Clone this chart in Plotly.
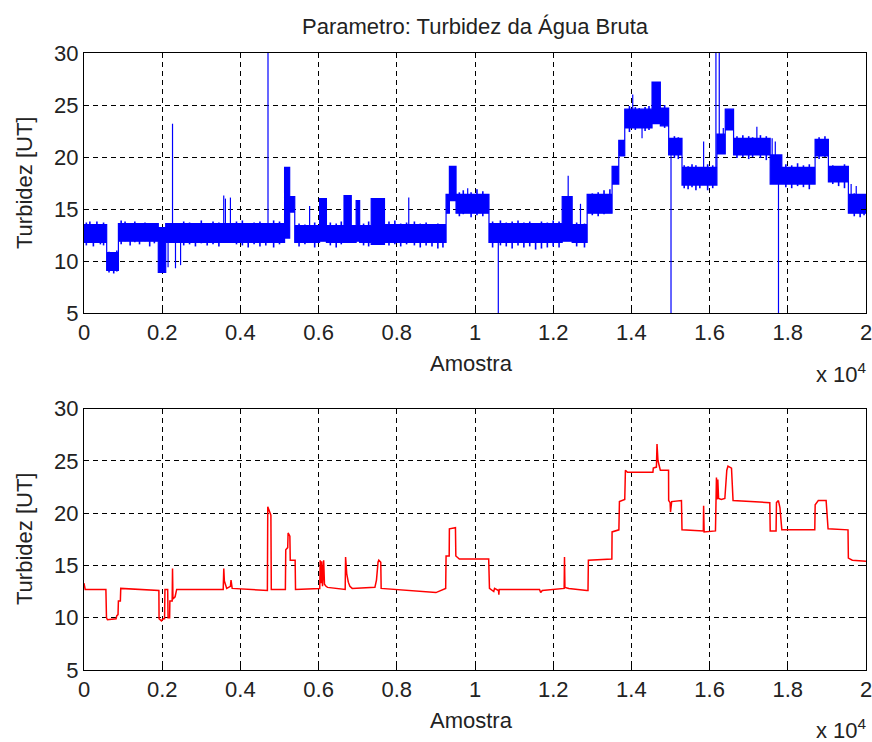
import plotly.graph_objects as go

# ---- raw signal (top): noise band per segment ----
band_edges = [0, 580, 880, 1900, 2090, 5130, 5260, 5390, 6025, 6200,
              6650, 6835, 6960, 7050, 7345, 7685, 9260, 9345, 9515, 10357,
              12230, 12485, 12868, 13506, 13677, 13830, 14528, 14740, 14953, 15294,
              16187, 16400, 16613, 17549, 17847, 18698, 19038, 19549, 20000]
band_lo = [11.8, 9.1, 11.9, 8.9, 11.8, 12.2, 14.7, 11.8, 11.9, 11.8,
           11.8, 11.8, 11.9, 11.8, 11.6, 11.8, 14.6, 15.8, 14.6, 11.8,
           11.9, 11.8, 14.6, 17.4, 20.1, 22.8, 23.2, 23.0, 20.2, 17.3,
           20.3, 22.6, 20.2, 17.4, 17.4, 20.1, 17.6, 14.6]
band_hi = [13.5, 10.8, 13.6, 13.2, 13.6, 19.0, 16.2, 13.4, 16.0, 13.4,
           16.3, 13.4, 15.8, 13.4, 16.0, 13.5, 16.4, 19.1, 16.4, 13.6,
           16.2, 13.5, 16.4, 19.1, 21.6, 24.6, 27.2, 24.7, 21.8, 19.0,
           22.2, 24.6, 21.8, 20.2, 19.0, 21.7, 19.1, 16.4]

# short noise excursions poking out of the band
flick_x = [60, 150, 240, 330, 420, 500, 640, 760, 840, 950,
           1050, 1180, 1300, 1420, 1560, 1680, 1800, 2550, 2700, 2850,
           3000, 3150, 3300, 3450, 3900, 4050, 4200, 4350, 4500, 4650,
           4850, 5000, 5500, 5650, 5900, 6300, 6450, 6580, 7150, 7280,
           7800, 7950, 8100, 8250, 8450, 8600, 8750, 8900, 9050, 9180,
           9600, 9700, 9900, 10050, 10200, 10450, 10650, 10800, 10950, 11100,
           11250, 11400, 11550, 11700, 11850, 12000, 12150, 12600, 12800, 13000,
           13150, 13300, 13450, 13950, 14100, 14200, 14350, 14450, 14850, 15100,
           15200, 15350, 15450, 15550, 15650, 15750, 15950, 16080, 16700, 16850,
           17000, 17100, 17300, 17450, 17950, 18100, 18250, 18400, 18550, 18800,
           18950, 19150, 19300, 19450, 19700, 19850, 19950]
flick_lo = [11.5, 11.9, 11.4, 11.9, 11.6, 11.5, 8.9, 8.8, 9.0, 11.6,
            11.9, 11.5, 11.8, 11.6, 11.9, 11.4, 11.7, 11.5, 11.6, 11.4,
            11.7, 11.5, 11.6, 11.4, 11.6, 11.5, 11.3, 11.6, 11.4, 11.5,
            11.3, 11.6, 11.4, 11.6, 11.3, 11.5, 11.3, 11.6, 11.5, 11.4,
            11.5, 11.6, 11.4, 11.6, 11.5, 11.3, 11.5, 11.4, 11.2, 11.3,
            14.3, 14.5, 14.2, 14.4, 14.3, 11.3, 11.5, 11.4, 11.2, 11.5,
            11.3, 11.4, 11.1, 11.2, 11.3, 11.4, 11.3, 11.4, 11.3, 14.4,
            14.3, 14.5, 14.7, 22.4, 22.6, 22.9, 22.5, 22.6, 22.8, 19.9,
            19.8, 17.0, 16.9, 17.1, 16.8, 17.0, 16.8, 17.0, 19.9, 20.0,
            19.8, 20.0, 19.9, 19.7, 17.1, 17.0, 17.2, 17.1, 16.9, 19.8,
            20.0, 17.4, 17.2, 17.0, 14.3, 14.2, 14.4]
flick_hi = [13.7, 13.8, 13.3, 13.8, 13.4, 13.7, 10.9, 10.7, 11.0, 13.9,
            13.8, 13.6, 13.8, 13.5, 13.7, 13.6, 13.3, 13.8, 13.7, 13.6,
            13.9, 13.5, 13.8, 13.7, 13.8, 13.9, 13.6, 13.7, 13.8, 13.6,
            13.9, 13.8, 13.6, 13.5, 13.7, 13.7, 13.6, 13.8, 13.6, 13.8,
            13.8, 13.9, 13.6, 13.7, 13.8, 13.6, 13.7, 13.5, 13.6, 13.4,
            16.6, 16.8, 16.6, 16.9, 16.7, 13.8, 13.9, 13.7, 13.8, 13.9,
            13.7, 13.8, 13.6, 13.8, 13.7, 13.9, 13.8, 13.7, 13.6, 16.5,
            16.6, 16.8, 16.9, 24.9, 24.8, 24.7, 24.8, 24.9, 25.0, 22.0,
            21.9, 19.2, 19.1, 19.3, 19.2, 19.0, 19.3, 19.2, 22.0, 22.1,
            22.0, 21.9, 22.1, 22.0, 19.3, 19.2, 19.4, 19.2, 19.3, 21.9,
            22.0, 19.2, 19.1, 19.3, 16.5, 16.2, 16.0]

# isolated outliers in the raw signal
spike_x = [2150, 2264, 2340, 2470, 3574, 3617, 3745, 4706, 5770, 8306,
           9813, 10596, 12383, 12698, 14034, 14272, 15013, 15847, 16162, 16247,
           16350, 17209, 17600, 17680, 17762, 19620, 19750]
spike_base = [12.0, 13.0, 12.0, 12.0, 13.0, 13.0, 13.0, 13.0, 13.0, 13.0,
              16.0, 12.5, 13.0, 13.0, 24.0, 23.5, 21.0, 18.5, 19.0, 21.0,
              21.5, 21.0, 19.0, 19.0, 18.5, 16.0, 16.0]
spike_top = [9.4, 23.2, 9.3, 9.6, 16.3, 16.0, 16.1, 35.0, 15.3, 16.1,
             17.0, 0.0, 18.2, 15.5, 26.0, 21.8, 0.0, 21.5, 35.0, 35.0,
             22.8, 22.9, 21.8, 21.5, 0.0, 17.4, 17.2]

# ---- filtered signal (bottom) ----
filt_x = [0, 30, 560, 575, 600, 820, 840, 870, 880, 930,
          940, 1915, 1920, 1980, 2030, 2060, 2070, 2140, 2150, 2190,
          2196, 2255, 2264, 2275, 2330, 2370, 3560, 3575, 3590, 3610,
          3650, 3745, 3760, 3790, 4690, 4700, 4780, 4790, 5150, 5160,
          5210, 5220, 5265, 5275, 5400, 5410, 6030, 6040, 6060, 6080,
          6100, 6130, 6150, 6190, 6230, 6680, 6690, 6720, 6760, 6800,
          6860, 7440, 7480, 7520, 7540, 7590, 7600, 9000, 9250, 9260,
          9340, 9345, 9500, 9510, 9600, 10350, 10370, 10480, 10500, 10600,
          10610, 10620, 11650, 11680, 11720, 12280, 12289, 12300, 12400, 12860,
          12890, 12900, 13500, 13506, 13680, 13694, 13830, 13847, 13900, 14550,
          14560, 14640, 14655, 14680, 14740, 14950, 14953, 14990, 15000, 15030,
          15280, 15294, 15840, 15847, 15860, 16150, 16162, 16175, 16190, 16210,
          16230, 16300, 16390, 16440, 16470, 16560, 16600, 17540, 17550, 17700,
          17710, 17760, 17800, 17847, 18690, 18700, 18780, 18980, 19030, 19540,
          19549, 19650, 20000]
filt_y = [13.3, 12.7, 12.7, 10.0, 9.8, 9.9, 10.2, 10.3, 11.6, 11.6,
          12.8, 12.6, 9.9, 9.7, 9.9, 9.9, 12.7, 12.7, 10.0, 10.0,
          11.6, 11.6, 14.7, 11.8, 12.0, 12.7, 12.7, 14.7, 13.5, 13.2,
          12.8, 13.0, 13.6, 12.8, 12.6, 20.6, 19.8, 12.7, 12.7, 16.5,
          16.7, 18.1, 17.8, 15.5, 15.5, 12.7, 12.8, 15.5, 13.3, 15.4,
          13.0, 15.5, 13.2, 13.0, 12.9, 12.7, 15.8, 14.2, 13.4, 13.0,
          12.8, 12.9, 13.6, 15.3, 15.5, 15.3, 12.8, 12.4, 12.8, 15.9,
          15.9, 18.5, 18.6, 15.9, 15.6, 15.6, 12.8, 12.5, 12.8, 12.6,
          12.2, 12.7, 12.7, 12.4, 12.6, 12.8, 15.8, 12.9, 12.8, 12.6,
          12.6, 15.5, 15.6, 18.2, 18.4, 21.1, 21.3, 24.1, 23.9, 23.9,
          24.3, 24.4, 26.6, 25.0, 24.1, 24.1, 21.2, 21.0, 20.1, 21.1,
          21.2, 18.4, 18.3, 20.7, 18.2, 18.3, 21.0, 23.4, 21.3, 23.2,
          21.4, 21.3, 21.4, 24.1, 24.5, 24.3, 21.2, 21.0, 18.3, 18.3,
          21.0, 21.2, 20.5, 18.4, 18.4, 20.8, 21.2, 21.2, 18.5, 18.4,
          15.7, 15.5, 15.4]

x_tickvals = [0, 2000, 4000, 6000, 8000, 10000, 12000, 14000, 16000, 18000, 20000]
x_ticktext = ["0", "0.2", "0.4", "0.6", "0.8", "1", "1.2", "1.4", "1.6", "1.8", "2"]
y_tickvals = [5, 10, 15, 20, 25, 30]

# ---- build traces ----
# band outline: upper edge left->right, lower edge right->left
up_x, up_y, lo_x, lo_y = [], [], [], []
for i in range(len(band_lo)):
    up_x += [band_edges[i], band_edges[i + 1]]
    up_y += [band_hi[i], band_hi[i]]
    lo_x += [band_edges[i], band_edges[i + 1]]
    lo_y += [band_lo[i], band_lo[i]]
poly_x = up_x + lo_x[::-1] + [up_x[0]]
poly_y = up_y + lo_y[::-1] + [up_y[0]]


def strokes(xs, y0s, y1s):
    # vertical strokes joined into one trace, separated by gaps
    sx, sy = [], []
    for x, a, b in zip(xs, y0s, y1s):
        sx += [x, x, None]
        sy += [a, b, None]
    return sx, sy


fl_x, fl_y = strokes(flick_x, flick_lo, flick_hi)
sp_x, sp_y = strokes(spike_x, spike_base, spike_top)

BLUE = "#0000ff"
RED = "#ff0000"
FONT = "Liberation Sans, Arial, sans-serif"

fig = go.Figure()
fig.add_trace(go.Scatter(x=poly_x, y=poly_y, mode="lines", fill="toself",
                         fillcolor=BLUE, line=dict(color=BLUE, width=1.2),
                         xaxis="x", yaxis="y", hoverinfo="skip"))
fig.add_trace(go.Scatter(x=fl_x, y=fl_y, mode="lines",
                         line=dict(color=BLUE, width=1.6),
                         xaxis="x", yaxis="y", hoverinfo="skip"))
fig.add_trace(go.Scatter(x=sp_x, y=sp_y, mode="lines",
                         line=dict(color=BLUE, width=1.2),
                         xaxis="x", yaxis="y", hoverinfo="skip"))
fig.add_trace(go.Scatter(x=filt_x, y=filt_y, mode="lines",
                         line=dict(color=RED, width=1.5),
                         xaxis="x2", yaxis="y2"))

axis_common = dict(showline=True, linecolor="black", linewidth=1, mirror="ticks",
                   ticks="inside", ticklen=5, tickcolor="black", automargin=False,
                   showgrid=True, gridcolor="black", gridwidth=1, griddash="5px,4px",
                   zeroline=False, tickfont=dict(family=FONT, size=22, color="#222222"))

xa = dict(axis_common, range=[0, 20000], tickmode="array",
          tickvals=x_tickvals, ticktext=x_ticktext, ticklabeloverflow="allow")
ya = dict(axis_common, range=[5, 30], tickmode="array", tickvals=y_tickvals)

top_dom = [1 - 260 / 617, 1]
bot_dom = [0, 261.5 / 617]

fig.update_layout(
    width=872, height=742, autosize=False,
    margin=dict(l=84, r=6, t=53, b=72, autoexpand=False),
    paper_bgcolor="white", plot_bgcolor="white", showlegend=False,
    xaxis=dict(xa, anchor="y", domain=[0, 1]),
    yaxis=dict(ya, anchor="x", domain=top_dom),
    xaxis2=dict(xa, anchor="y2", domain=[0, 1]),
    yaxis2=dict(ya, anchor="x2", domain=bot_dom),
)


def py(ypix):
    # pixel row -> paper coordinate
    return (670 - ypix) / 617


def px(xpix):
    return (xpix - 84) / 782


txt = dict(family=FONT, size=22, color="#222222")
ann = [
    dict(text="Parametro: Turbidez da Água Bruta", x=px(475), y=py(27)),
    dict(text="Amostra", x=px(471), y=py(364)),
    dict(text="Amostra", x=px(471), y=py(720)),
    dict(text="Turbidez [UT]", x=px(24), y=py(183), textangle=-90),
    dict(text="Turbidez [UT]", x=px(24), y=py(539), textangle=-90),
]
for a in ann:
    fig.add_annotation(xref="paper", yref="paper", showarrow=False,
                       xanchor="center", yanchor="middle", font=txt, **a)
for yc in (373, 729):
    fig.add_annotation(xref="paper", yref="paper", showarrow=False,
                       text="x 10<sup>4</sup>", x=px(869), y=py(yc),
                       xanchor="right", yanchor="middle", font=txt)

fig.write_html("out.html")
